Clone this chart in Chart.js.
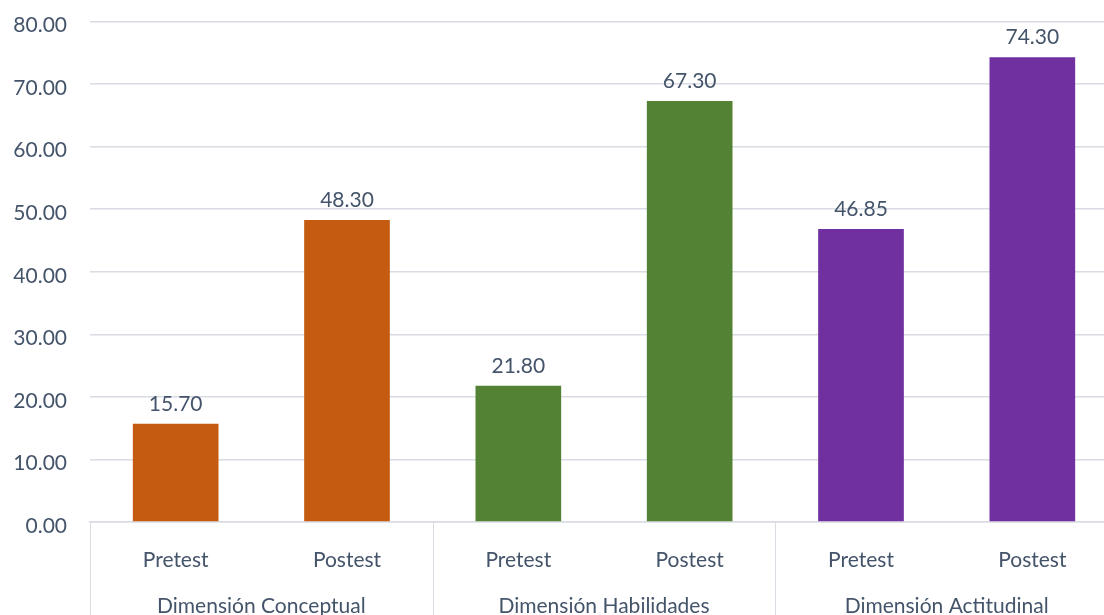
<!DOCTYPE html>
<html><head><meta charset="utf-8">
<script src="https://cdn.jsdelivr.net/npm/chart.js@4"></script>
<style>html,body{margin:0;padding:0;overflow:hidden;background:#fff}
#wrap{width:1120px;height:654px;position:relative;margin-top:-14px}</style></head>
<body><div id="wrap"><canvas id="c"></canvas></div>
<script>
const categories = ['Pretest','Postest','Pretest','Postest','Pretest','Postest'];
const groups = ['Dimensión Conceptual','Dimensión Habilidades','Dimensión Actitudinal'];
const values = [15.70, 48.30, 21.80, 67.30, 46.85, 74.30];
const barColors = ['#C55A11','#C55A11','#548235','#548235','#7030A0','#7030A0'];
const yMin = 0, yMax = 80, yStep = 10;

const textColor = '#44546A';
const gridColor = '#D9DCE3';
const fontFamily = 'Lato, "Open Sans", sans-serif';
const fontSize = 21;

const valueLabels = {
  id: 'valueLabels',
  afterDatasetsDraw(chart) {
    const ctx = chart.ctx;
    const meta = chart.getDatasetMeta(0);
    ctx.save();
    ctx.font = fontSize + 'px ' + fontFamily;
    ctx.fillStyle = textColor;
    ctx.textAlign = 'center';
    ctx.textBaseline = 'alphabetic';
    meta.data.forEach((bar, i) => {
      ctx.fillText(values[i].toFixed(2), bar.x, bar.y - 13);
    });
    ctx.restore();
  }
};

const groupSeparators = {
  id: 'groupSeparators',
  afterDraw(chart) {
    const x = chart.scales.x;
    const ctx = chart.ctx;
    const half = (x.getPixelForValue(1) - x.getPixelForValue(0)) / 2;
    const per = categories.length / groups.length;
    ctx.save();
    ctx.strokeStyle = gridColor;
    ctx.lineWidth = 1;
    for (let g = 0; g <= groups.length; g++) {
      const px = Math.round(x.getPixelForValue(g * per) - half) + 0.5;
      ctx.beginPath();
      ctx.moveTo(px, x.top);
      ctx.lineTo(px, chart.height);
      ctx.stroke();
    }
    ctx.restore();
  }
};

new Chart(document.getElementById('c'), {
  type: 'bar',
  data: {
    labels: categories,
    datasets: [{
      data: values,
      backgroundColor: barColors,
      borderWidth: 0,
      barPercentage: 0.5,
      categoryPercentage: 1.0
    }]
  },
  options: {
    responsive: true,
    maintainAspectRatio: false,
    animation: false,
    layout: { padding: { top: 7, right: 2, left: 0, bottom: 0 } },
    plugins: { legend: { display: false }, tooltip: { enabled: false } },
    scales: {
      y: {
        min: yMin, max: yMax,
        ticks: { stepSize: yStep, callback: v => Number(v).toFixed(2), font: { size: fontSize, family: fontFamily }, color: textColor, padding: 23, labelOffset: 4 },
        grid: { color: gridColor, drawTicks: false, lineWidth: 1.5 },
        border: { display: false },
        afterFit(s) { s.width = 90; }
      },
      x: {
        weight: 0,
        grid: { display: false },
        border: { color: gridColor, width: 1.5 },
        ticks: { font: { size: fontSize, family: fontFamily }, color: textColor, padding: 18, maxRotation: 0 },
        afterFit(s) { s.height = 70; }
      },
      x2: {
        type: 'category',
        position: 'bottom',
        weight: 1,
        labels: groups,
        offset: true,
        grid: { display: false },
        border: { display: false },
        ticks: { font: { size: fontSize, family: fontFamily }, color: textColor, padding: -6, maxRotation: 0 },
        afterFit(s) { s.height = 48; }
      }
    }
  },
  plugins: [valueLabels, groupSeparators]
});
</script>
</body></html>
